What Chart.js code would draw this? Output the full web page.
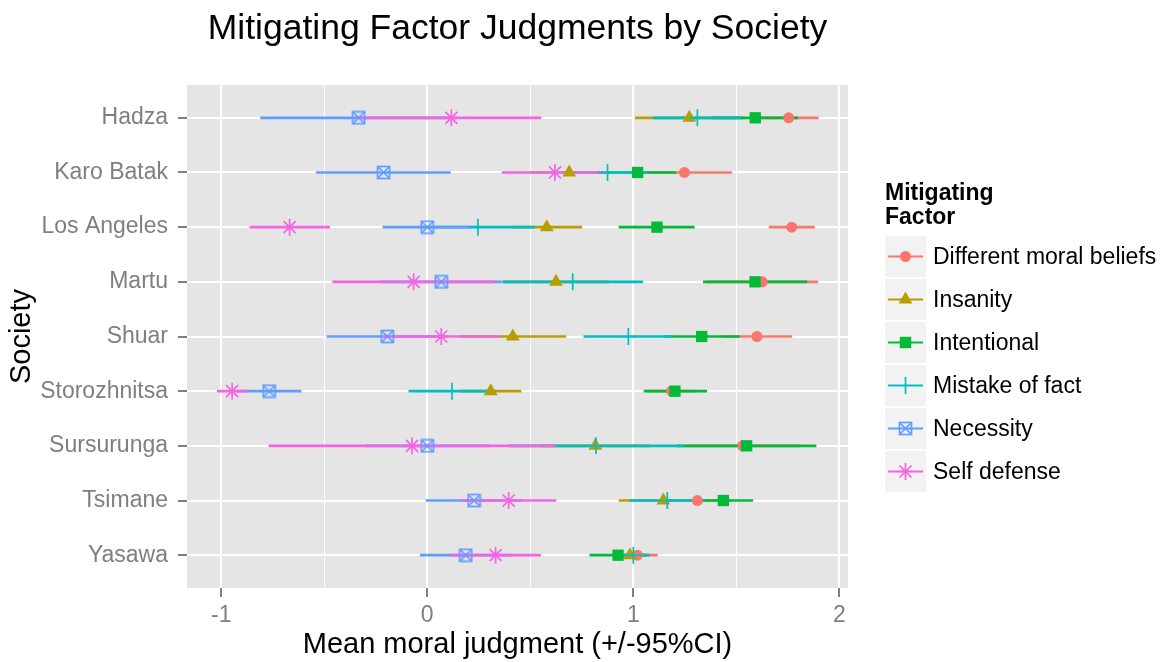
<!DOCTYPE html>
<html>
<head>
<meta charset="utf-8">
<script src="https://cdn.jsdelivr.net/npm/chart.js@4"></script>
<style>
  body { margin: 0; background: #fff; font-family: "Liberation Sans", Arial, sans-serif; }
  #wrap { position: relative; width: 1166px; height: 662px; }
  #chartTitle { position: absolute; left: 187px; width: 661px; top: 7px; line-height: 40px; text-align: center; font-size: 35.5px; color: #000; }
  #legend { position: absolute; left: 885px; top: 180px; }
  #legend .ttl { font-weight: bold; font-size: 23px; line-height: 24px; margin-bottom: 8px; }
  #legend .row { display: flex; align-items: center; height: 41px; margin-bottom: 2px; }
  #legend .key { width: 41px; height: 41px; background: #F2F2F2; }
  #legend .lab { font-size: 23px; margin-left: 7px; white-space: nowrap; }
</style>
</head>
<body>
<div id="wrap">
  <canvas id="chartCanvas" width="1166" height="662"></canvas>
  <div id="chartTitle">Mitigating Factor Judgments by Society</div>
  <div id="legend"><div class="ttl">Mitigating<br>Factor</div></div>
</div>
<script>
const societies = ['Hadza', 'Karo Batak', 'Los Angeles', 'Martu', 'Shuar', 'Storozhnitsa', 'Sursurunga', 'Tsimane', 'Yasawa'];
const factors = ['Different moral beliefs', 'Insanity', 'Intentional', 'Mistake of fact', 'Necessity', 'Self defense'];
const colors = ['#F8766D', '#B79F00', '#00BA38', '#00BFC4', '#619CFF', '#F564E3'];
const xTicks = [-1, 0, 1, 2];

// mean, lower and upper 95% CI, one value per society
const moralMean = [1.754, 1.248, 1.769, 1.626, 1.600, 1.186, 1.53, 1.311, 1.02];
const moralLow  = [1.61, 1.018, 1.659, 1.357, 1.431, 1.07, 1.25, 1.15, 0.923];
const moralHigh = [1.898, 1.478, 1.879, 1.895, 1.769, 1.30, 1.81, 1.47, 1.117];

const insanityMean = [1.272, 0.689, 0.58, 0.625, 0.415, 0.308, 0.816, 1.146, 0.984];
const insanityLow  = [1.01, 0.50, 0.41, 0.37, 0.157, 0.161, 0.55, 0.931, 0.92];
const insanityHigh = [1.534, 0.88, 0.75, 0.88, 0.673, 0.455, 1.08, 1.361, 1.05];

const intentionalMean = [1.592, 1.021, 1.115, 1.591, 1.332, 1.202, 1.55, 1.437, 0.926];
const intentionalLow  = [1.386, 0.836, 0.931, 1.34, 1.149, 1.052, 1.213, 1.294, 0.789];
const intentionalHigh = [1.798, 1.206, 1.296, 1.842, 1.515, 1.356, 1.887, 1.58, 1.063];

const mistakeMean = [1.311, 0.875, 0.246, 0.706, 0.976, 0.12, 0.819, 1.165, 1.0];
const mistakeLow  = [1.097, 0.685, -0.031, 0.366, 0.76, -0.089, 0.395, 0.983, 0.922];
const mistakeHigh = [1.521, 1.065, 0.523, 1.046, 1.192, 0.329, 1.243, 1.347, 1.076];

const necessityMean = [-0.333, -0.212, 0.0, 0.068, -0.194, -0.768, 0.0, 0.227, 0.187];
const necessityLow  = [-0.809, -0.539, -0.215, -0.224, -0.487, -0.924, -0.3, -0.006, -0.034];
const necessityHigh = [0.143, 0.112, 0.214, 0.36, 0.099, -0.612, 0.3, 0.46, 0.408];

const defenseMean = [0.117, 0.62, -0.668, -0.066, 0.068, -0.947, -0.074, 0.395, 0.332];
const defenseLow  = [-0.32, 0.363, -0.861, -0.459, -0.215, -1.019, -0.768, 0.165, 0.114];
const defenseHigh = [0.552, 0.875, -0.474, 0.325, 0.351, -0.874, 0.62, 0.625, 0.55];

const means = [moralMean, insanityMean, intentionalMean, mistakeMean, necessityMean, defenseMean];
const lows = [moralLow, insanityLow, intentionalLow, mistakeLow, necessityLow, defenseLow];
const highs = [moralHigh, insanityHigh, intentionalHigh, mistakeHigh, necessityHigh, defenseHigh];

const FONT = 'Liberation Sans';

// square with an x inside (ggplot shape 7)
function boxCross(color) {
    const c = document.createElement('canvas');
    c.width = 15; c.height = 15;
    const g = c.getContext('2d');
    g.strokeStyle = color;
    g.lineWidth = 1.7;
    g.strokeRect(1.5, 1.5, 12, 12);
    g.beginPath();
    g.moveTo(2, 2); g.lineTo(13, 13);
    g.moveTo(13, 2); g.lineTo(2, 13);
    g.stroke();
    return c;
}

const pointStyles = ['circle', 'triangle', 'rect', 'cross', boxCross(colors[4]), 'star'];
const pointRadius = [5.5, 8, 8, 8.5, 7.5, 8.5];

const datasets = [];
factors.forEach((f, i) => {
    datasets.push({
        type: 'bar',
        label: f + ' CI',
        data: societies.map((s, j) => ({ y: j, x: [lows[i][j], highs[i][j]] })),
        backgroundColor: colors[i],
        borderWidth: 0,
        barThickness: 2,
        grouped: false,
        order: 30 - i
    });
});
factors.forEach((f, i) => {
    datasets.push({
        type: 'scatter',
        label: f,
        data: societies.map((s, j) => ({ x: means[i][j], y: j })),
        pointStyle: pointStyles[i],
        pointRadius: pointRadius[i],
        pointBackgroundColor: colors[i],
        pointBorderColor: colors[i],
        pointBorderWidth: (i === 3 || i === 5) ? 1.7 : 0,
        order: 10 - i
    });
});

const panelBg = {
    id: 'panelBg',
    beforeDraw(chart) {
        const a = chart.chartArea;
        const ctx = chart.ctx;
        ctx.save();
        ctx.fillStyle = '#E5E5E5';
        ctx.fillRect(a.left, a.top, a.right - a.left, a.bottom - a.top);
        ctx.restore();
    }
};

const isMajor = v => xTicks.includes(Math.round(v * 1000) / 1000);

new Chart(document.getElementById('chartCanvas').getContext('2d'), {
    type: 'bar',
    data: { datasets: datasets },
    plugins: [panelBg],
    options: {
        indexAxis: 'y',
        responsive: false,
        animation: false,
        layout: { padding: { left: 0, right: 318, top: 85, bottom: 0 } },
        plugins: { legend: { display: false }, tooltip: { enabled: false }, title: { display: false } },
        scales: {
            x: {
                type: 'linear',
                min: -1.166,
                max: 2.042,
                offset: false,
                beginAtZero: false,
                afterFit: s => { s.height = 74; },
                border: { display: false },
                grid: {
                    offset: false,
                    color: '#FFFFFF',
                    lineWidth: c => (c.tick && isMajor(c.tick.value)) ? 2 : 1,
                    tickColor: c => (c.tick && isMajor(c.tick.value)) ? '#7F7F7F' : 'rgba(0,0,0,0)',
                    tickWidth: 2,
                    tickLength: 9
                },
                ticks: {
                    stepSize: 0.5,
                    includeBounds: false,
                    autoSkip: false,
                    maxRotation: 0,
                    padding: 5,
                    color: '#7F7F7F',
                    font: { family: FONT, size: 23 },
                    callback: v => isMajor(v) ? String(Math.round(v)) : ''
                },
                title: {
                    display: true,
                    text: 'Mean moral judgment (+/-95%CI)',
                    color: '#000',
                    font: { family: FONT, size: 29 },
                    padding: { top: 0, bottom: 0 }
                }
            },
            y: {
                type: 'linear',
                min: -0.6,
                max: 8.6,
                reverse: true,
                offset: false,
                afterFit: s => { s.width = 187; },
                border: { display: false },
                grid: {
                    offset: false,
                    color: '#FFFFFF',
                    lineWidth: 2,
                    tickColor: '#7F7F7F',
                    tickWidth: 2,
                    tickLength: 9
                },
                ticks: {
                    stepSize: 1,
                    includeBounds: false,
                    autoSkip: false,
                    padding: 10,
                    color: '#7F7F7F',
                    font: { family: FONT, size: 23 },
                    callback: v => societies[v] !== undefined ? societies[v] : ''
                },
                title: {
                    display: true,
                    text: 'Society',
                    color: '#000',
                    font: { family: FONT, size: 29 },
                    padding: { top: 5, bottom: 0 }
                }
            }
        }
    }
});

// legend keys drawn as small svg pictures
function keySvg(i) {
    const c = colors[i];
    let mark = '';
    if (i === 0) mark = `<circle cx="20.5" cy="20.5" r="5.5" fill="${c}"/>`;
    if (i === 1) mark = `<polygon points="20.5,12.5 27.4,24.5 13.6,24.5" fill="${c}"/>`;
    if (i === 2) mark = `<rect x="14.8" y="14.8" width="11.4" height="11.4" fill="${c}"/>`;
    if (i === 3) mark = `<path d="M20.5 12 V29" stroke="${c}" stroke-width="1.7"/>`;
    if (i === 4) mark = `<rect x="14.5" y="14.5" width="12" height="12" fill="none" stroke="${c}" stroke-width="1.7"/><path d="M15 15 L26 26 M26 15 L15 26" stroke="${c}" stroke-width="1.7"/>`;
    if (i === 5) mark = `<path d="M20.5 12 V29 M14.5 14.5 L26.5 26.5 M26.5 14.5 L14.5 26.5 M12 20.5 H29" stroke="${c}" stroke-width="1.7"/>`;
    return `<svg width="41" height="41"><line x1="3" y1="20.5" x2="38" y2="20.5" stroke="${c}" stroke-width="2"/>${mark}</svg>`;
}

const legend = document.getElementById('legend');
factors.forEach((f, i) => {
    const row = document.createElement('div');
    row.className = 'row';
    const key = document.createElement('div');
    key.className = 'key';
    key.innerHTML = keySvg(i);
    const lab = document.createElement('div');
    lab.className = 'lab';
    lab.textContent = f;
    row.appendChild(key);
    row.appendChild(lab);
    legend.appendChild(row);
});
</script>
</body>
</html>
